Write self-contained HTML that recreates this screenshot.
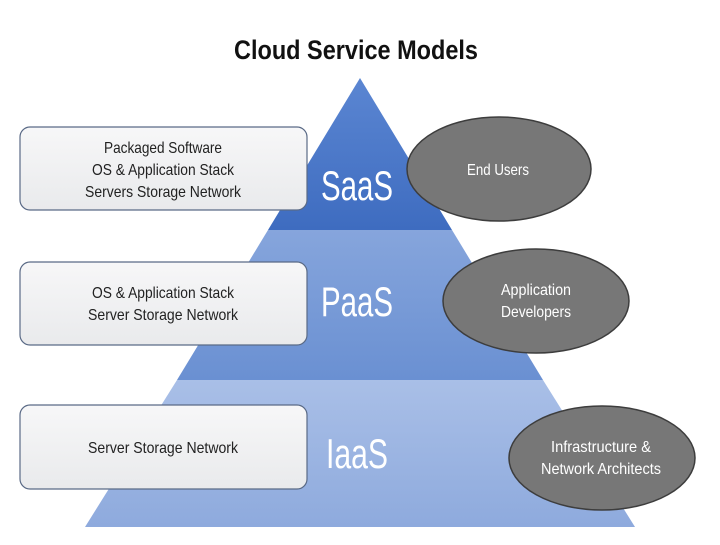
<!DOCTYPE html>
<html><head><style>
body{margin:0;width:720px;height:540px;background:#fff;overflow:hidden}
svg text{font-family:"Liberation Sans",sans-serif}
</style></head><body>
<svg width="720" height="540" viewBox="0 0 720 540">
<defs>
<linearGradient id="s" x1="0" y1="0" x2="0" y2="1"><stop offset="0" stop-color="#5b86d2"/><stop offset="1" stop-color="#3e6cc0"/></linearGradient>
<linearGradient id="p" x1="0" y1="0" x2="0" y2="1"><stop offset="0" stop-color="#86a5dc"/><stop offset="1" stop-color="#6a90d2"/></linearGradient>
<linearGradient id="i" x1="0" y1="0" x2="0" y2="1"><stop offset="0" stop-color="#a9bfe7"/><stop offset="1" stop-color="#8eaadd"/></linearGradient>
<linearGradient id="b" x1="0" y1="0" x2="0" y2="1"><stop offset="0" stop-color="#f7f7f8"/><stop offset="1" stop-color="#e9eaec"/></linearGradient>
</defs>
<text x="356" y="59" text-anchor="middle" font-size="27" font-weight="bold" fill="#111" textLength="244" lengthAdjust="spacingAndGlyphs">Cloud Service Models</text>
<polygon points="360,78 452,230 268,230" fill="url(#s)"/>
<polygon points="268,230 452,230 543,380 177,380" fill="url(#p)"/>
<polygon points="177,380 543,380 635,527 85,527" fill="url(#i)"/>
<g fill="url(#b)" stroke="#5a6a86" stroke-width="1.2">
<rect x="20" y="127" width="287" height="83" rx="10"/>
<rect x="20" y="262" width="287" height="83" rx="10"/>
<rect x="20" y="405" width="287" height="84" rx="10"/>
</g>
<g font-size="16" fill="#222" text-anchor="middle" lengthAdjust="spacingAndGlyphs">
<text x="163" y="153" textLength="118" lengthAdjust="spacingAndGlyphs">Packaged Software</text>
<text x="163" y="175" textLength="142" lengthAdjust="spacingAndGlyphs">OS &amp; Application Stack</text>
<text x="163" y="197" textLength="156" lengthAdjust="spacingAndGlyphs">Servers Storage Network</text>
<text x="163" y="298" textLength="142" lengthAdjust="spacingAndGlyphs">OS &amp; Application Stack</text>
<text x="163" y="320" textLength="150" lengthAdjust="spacingAndGlyphs">Server Storage Network</text>
<text x="163" y="453" textLength="150" lengthAdjust="spacingAndGlyphs">Server Storage Network</text>
</g>
<g font-size="42" fill="#fff" text-anchor="middle">
<text x="357" y="200" textLength="72" lengthAdjust="spacingAndGlyphs">SaaS</text>
<text x="357" y="316" textLength="72" lengthAdjust="spacingAndGlyphs">PaaS</text>
<text x="357" y="468" textLength="62" lengthAdjust="spacingAndGlyphs">IaaS</text>
</g>
<g fill="#777" stroke="#3d3d3d" stroke-width="1.5">
<ellipse cx="499" cy="169" rx="92" ry="52"/>
<ellipse cx="536" cy="301" rx="93" ry="52"/>
<ellipse cx="602" cy="458" rx="93" ry="52"/>
</g>
<g font-size="16" fill="#fff" text-anchor="middle">
<text x="498" y="175" textLength="62" lengthAdjust="spacingAndGlyphs">End Users</text>
<text x="536" y="295" textLength="70" lengthAdjust="spacingAndGlyphs">Application</text>
<text x="536" y="317" textLength="70" lengthAdjust="spacingAndGlyphs">Developers</text>
<text x="601" y="452" textLength="100" lengthAdjust="spacingAndGlyphs">Infrastructure &amp;</text>
<text x="601" y="474" textLength="120" lengthAdjust="spacingAndGlyphs">Network Architects</text>
</g>
</svg>
</body></html>
